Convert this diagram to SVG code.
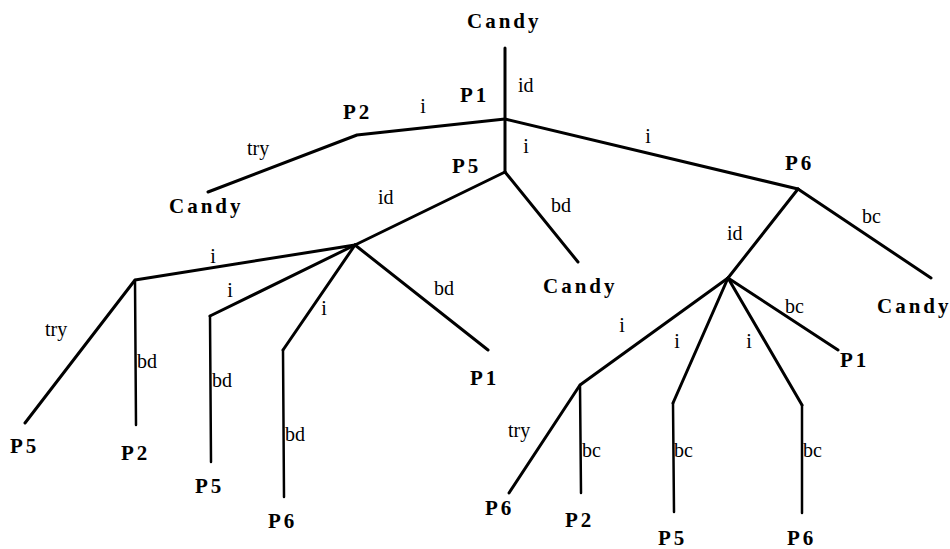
<svg xmlns="http://www.w3.org/2000/svg" width="950" height="549" viewBox="0 0 950 549">
<style>
.bg{fill:#fff}
.e{fill:none;stroke:#000;stroke-width:3;stroke-linecap:round;stroke-linejoin:round}
.v{fill:none;stroke:#000;stroke-width:2.5;stroke-linecap:round;stroke-linejoin:round}
.n{font-family:"Liberation Serif","Times New Roman",serif;font-weight:bold;font-size:21px;letter-spacing:3px;fill:#000}
.l{font-family:"Liberation Serif","Times New Roman",serif;font-size:20px;fill:#000}
.c{text-anchor:middle}
</style>
<rect class="bg" x="0" y="0" width="950" height="549"/>
<g id="connectors">
<path class="e" d="M505,48 L505,172"/>
<path class="e" d="M505,119 L357,135 L208,192"/>
<path class="e" d="M505,119 L798,189"/>
<path class="e" d="M505,172 L578,262"/>
<path class="e" d="M505,172 L355,245"/>
<path class="e" d="M798,189 L931,278"/>
<path class="e" d="M798,189 L728,278"/>
<path class="e" d="M355,245 L135,280 L25,423"/>
<path class="v" d="M135,280 L136,425"/>
<path class="e" d="M355,245 L210,316"/>
<path class="v" d="M210,316 L211,462"/>
<path class="e" d="M355,245 L283,350"/>
<path class="v" d="M283,350 L284,497"/>
<path class="e" d="M355,245 L488,350"/>
<path class="e" d="M728,278 L580,385 L509,493"/>
<path class="v" d="M580,385 L581,493"/>
<path class="e" d="M728,278 L673,403"/>
<path class="v" d="M673,403 L674,512"/>
<path class="e" d="M728,278 L802,405"/>
<path class="v" d="M802,405 L802,513"/>
<path class="e" d="M728,278 L838,350"/>
<text class="l" x="518" y="92">id</text>
<text class="l c" x="423" y="113">i</text>
<text class="l" x="247" y="155">try</text>
<text class="l c" x="526" y="153">i</text>
<text class="l" x="378" y="204">id</text>
<text class="l c" x="648" y="143">i</text>
<text class="l" x="551" y="212">bd</text>
<text class="l" x="862" y="223">bc</text>
<text class="l" x="727" y="240">id</text>
<text class="l c" x="213" y="263">i</text>
<text class="l" x="45" y="336">try</text>
<text class="l" x="137" y="368">bd</text>
<text class="l c" x="230" y="297">i</text>
<text class="l" x="212" y="387">bd</text>
<text class="l c" x="324" y="315">i</text>
<text class="l" x="285" y="441">bd</text>
<text class="l" x="434" y="295">bd</text>
<text class="l c" x="622" y="332">i</text>
<text class="l" x="508" y="437">try</text>
<text class="l" x="582" y="457">bc</text>
<text class="l c" x="677" y="348">i</text>
<text class="l" x="674" y="457">bc</text>
<text class="l c" x="749" y="348">i</text>
<text class="l" x="803" y="457">bc</text>
<text class="l" x="785" y="313">bc</text>
</g>
<g id="candy-root"><text class="n" x="467" y="28">Candy</text></g>
<g id="p1-root"><text class="n" x="460" y="102">P1</text></g>
<g id="p2-a"><text class="n" x="343" y="119">P2</text></g>
<g id="candy-a"><text class="n" x="169" y="213">Candy</text></g>
<g id="p5-a"><text class="n" x="452" y="173">P5</text></g>
<g id="candy-b"><text class="n" x="543" y="293">Candy</text></g>
<g id="p6-a"><text class="n" x="785" y="170">P6</text></g>
<g id="candy-c"><text class="n" x="877" y="313">Candy</text></g>
<g id="p5-b"><text class="n" x="10" y="453">P5</text></g>
<g id="p2-b"><text class="n" x="121" y="460">P2</text></g>
<g id="p5-c"><text class="n" x="195" y="493">P5</text></g>
<g id="p6-b"><text class="n" x="268" y="528">P6</text></g>
<g id="p1-b"><text class="n" x="470" y="385">P1</text></g>
<g id="p6-c"><text class="n" x="485" y="515">P6</text></g>
<g id="p2-c"><text class="n" x="565" y="527">P2</text></g>
<g id="p5-d"><text class="n" x="658" y="545">P5</text></g>
<g id="p6-d"><text class="n" x="787" y="545">P6</text></g>
<g id="p1-c"><text class="n" x="840" y="367">P1</text></g>
</svg>
